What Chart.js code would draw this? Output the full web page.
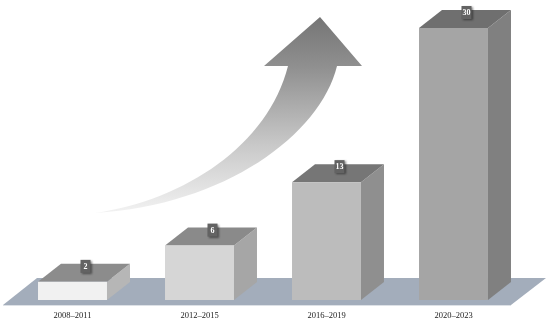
<!DOCTYPE html>
<html>
<head>
<meta charset="utf-8">
<script src="https://cdn.jsdelivr.net/npm/chart.js@4"></script>
<style>
  body { margin: 0; background: #fff; }
  canvas { display: block; }
</style>
</head>
<body>
<canvas id="graphique" width="550" height="323"></canvas>
<script>
var labels = ["2008–2011", "2012–2015", "2016–2019", "2020–2023"];
var values = [2, 6, 13, 30];

var frontColors = ["#f1f1f1", "#d6d6d6", "#bcbcbc", "#a5a5a5"];
var sideColors = ["#b6b6b6", "#a6a6a6", "#8f8f8f", "#808080"];
var topColors = ["#8c8c8c", "#8a8a8a", "#767676", "#6f6f6f"];

// depth of the fake 3d boxes
var depthX = 23;
var depthY = -18;

function poly(ctx, pts, color) {
  ctx.beginPath();
  ctx.moveTo(pts[0][0], pts[0][1]);
  for (var i = 1; i < pts.length; i++) {
    ctx.lineTo(pts[i][0], pts[i][1]);
  }
  ctx.closePath();
  ctx.fillStyle = color;
  ctx.fill();
}

function drawFloor(ctx) {
  poly(ctx, [[3, 305], [511, 305], [546, 278], [37, 278]], "#a3adbb");
  ctx.fillStyle = "#dde1e6";
  ctx.fillRect(3, 305, 508, 1);
}

function drawArrow(ctx) {
  var grad = ctx.createLinearGradient(0, 17, 0, 213);
  grad.addColorStop(0, "#757575");
  grad.addColorStop(0.25, "#8f8f8f");
  grad.addColorStop(0.65, "#c8c8c8");
  grad.addColorStop(1, "#f2f2f2");
  ctx.beginPath();
  ctx.moveTo(320, 17);
  ctx.lineTo(362, 66);
  ctx.lineTo(337, 66);
  ctx.bezierCurveTo(320, 135, 225, 205, 95, 213);
  ctx.bezierCurveTo(185, 200, 268, 145, 288, 66);
  ctx.lineTo(264, 66);
  ctx.closePath();
  ctx.fillStyle = grad;
  ctx.fill();
}

var boxPlugin = {
  id: "box3d",
  beforeDatasetsDraw: function (chart) {
    var ctx = chart.ctx;
    ctx.save();
    drawFloor(ctx);
    drawArrow(ctx);
    chart.getDatasetMeta(0).data.forEach(function (bar, i) {
      var w = bar.width / 2;
      var l = bar.x - w;
      var r = bar.x + w;
      poly(ctx, [[r, bar.y], [r + depthX, bar.y + depthY], [r + depthX, bar.base + depthY], [r, bar.base]], sideColors[i]);
      poly(ctx, [[l, bar.y], [l + depthX, bar.y + depthY], [r + depthX, bar.y + depthY], [r, bar.y]], topColors[i]);
    });
    ctx.restore();
  },
  afterDatasetsDraw: function (chart) {
    var ctx = chart.ctx;
    chart.getDatasetMeta(0).data.forEach(function (bar, i) {
      var cx = bar.x + 13;
      var cy = bar.y - 15.5;
      ctx.save();
      ctx.shadowColor = "rgba(0,0,0,0.45)";
      ctx.shadowBlur = 2;
      ctx.shadowOffsetX = 1;
      ctx.shadowOffsetY = 1;
      ctx.fillStyle = "#636363";
      ctx.fillRect(cx - 5, cy - 6.5, 10, 13);
      ctx.restore();
      ctx.fillStyle = "#fff";
      ctx.font = "bold 8px 'Liberation Serif'";
      ctx.textAlign = "center";
      ctx.textBaseline = "middle";
      ctx.fillText(values[i], cx, cy + 0.5);
    });
  }
};

new Chart(document.getElementById("graphique"), {
  type: "bar",
  data: {
    labels: labels,
    datasets: [
      {
        data: values,
        backgroundColor: frontColors,
        categoryPercentage: 1,
        barPercentage: 0.543,
      },
    ],
  },
  options: {
    responsive: false,
    animation: false,
    layout: { padding: { left: 9, right: 33, top: 28, bottom: 0 } },
    plugins: {
      legend: { display: false },
      tooltip: { enabled: false },
    },
    scales: {
      x: {
        grid: { display: false },
        border: { display: false },
        afterFit: function (axis) {
          axis.height = 23;
        },
        ticks: {
          color: "#222",
          padding: 3,
          maxRotation: 0,
          font: { family: "'Liberation Serif'", size: 8.5 },
        },
      },
      y: {
        display: false,
        min: 0,
        max: 30,
      },
    },
  },
  plugins: [boxPlugin],
});
</script>
</body>
</html>
